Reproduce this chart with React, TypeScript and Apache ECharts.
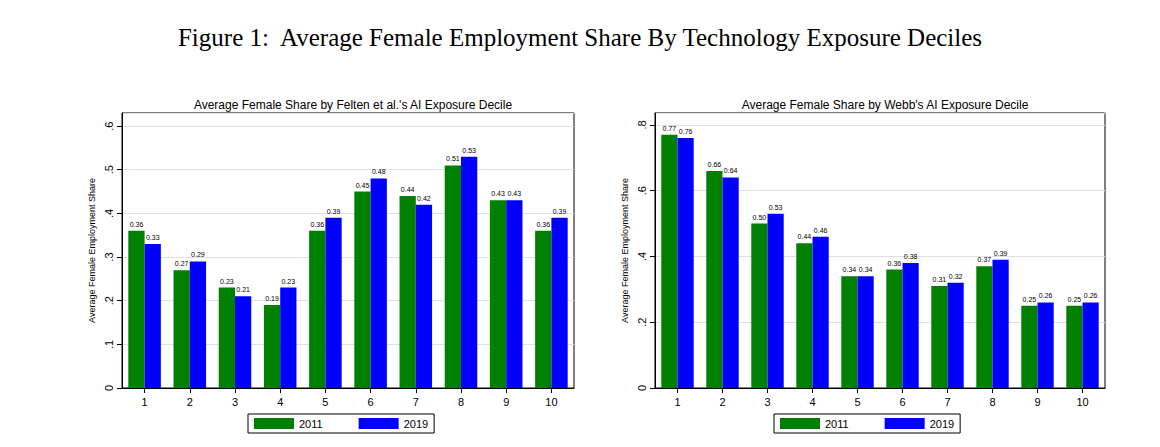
import React, { useEffect, useRef } from "react";
import * as echarts from "echarts";

const deciles = ["1", "2", "3", "4", "5", "6", "7", "8", "9", "10"];
const felten2011 = [0.36, 0.27, 0.23, 0.19, 0.36, 0.45, 0.44, 0.51, 0.43, 0.36];
const felten2019 = [0.33, 0.29, 0.21, 0.23, 0.39, 0.48, 0.42, 0.53, 0.43, 0.39];
const webb2011 = [0.77, 0.66, 0.5, 0.44, 0.34, 0.36, 0.31, 0.37, 0.25, 0.25];
const webb2019 = [0.76, 0.64, 0.53, 0.46, 0.34, 0.38, 0.32, 0.39, 0.26, 0.26];

const GREEN = "#008000";
const BLUE = "#0000ff";

const tick = (v: number) => (v === 0 ? "0" : v.toFixed(1).replace(/^0/, ""));

const App = () => {
  const chartRef = useRef(null);

  useEffect(() => {
    document.body.style.margin = "0";
    if (!chartRef.current) return;
    const chart = echarts.init(chartRef.current, null, { renderer: "svg" });
    const font = "Liberation Sans, Arial, sans-serif";

    const xAxis = (gridIndex: number) => ({
      type: "category",
      gridIndex,
      data: deciles,
      axisTick: { show: true, alignWithLabel: true, lineStyle: { color: "#000" } },
      axisLine: { lineStyle: { color: "#000" } },
      axisLabel: { color: "#000", fontSize: 11, fontFamily: font },
    });
    const yAxis = (gridIndex: number, max: number, interval: number) => ({
      type: "value",
      gridIndex,
      min: 0,
      max,
      interval,
      name: "Average Female Employment Share",
      nameLocation: "middle",
      nameGap: 26,
      nameTextStyle: { color: "#000", fontSize: 9, fontFamily: font },
      axisLine: { show: true, lineStyle: { color: "#000" } },
      axisTick: { show: true, lineStyle: { color: "#000" } },
      axisLabel: { rotate: 90, color: "#000", fontSize: 11, fontFamily: font, formatter: tick, showMaxLabel: false },
      splitLine: { lineStyle: { color: "#e0e0e0" } },
    });
    const bar = (name: string, data: number[], color: string, idx: number) => ({
      name,
      type: "bar",
      xAxisIndex: idx,
      yAxisIndex: idx,
      data,
      barGap: "0%",
      barCategoryGap: "28%",
      itemStyle: { color },
      label: {
        show: true,
        position: "top",
        fontSize: 7,
        color: "#000",
        fontFamily: font,
        formatter: (p: any) => p.value.toFixed(2),
        distance: 3,
      },
    });
    const legend = (left: number) => ({
      left,
      top: 414,
      width: 198,
      orient: "horizontal",
      data: ["2011", "2019"],
      itemWidth: 40,
      itemHeight: 11,
      itemGap: 36,
      icon: "rect",
      borderColor: "#000",
      borderWidth: 1,
      padding: [4, 6, 4, 6],
      textStyle: { color: "#000", fontSize: 11, fontFamily: font },
      selectedMode: false,
    });

    chart.setOption({
      animation: false,
      backgroundColor: "#fff",
      title: [
        {
          text: "Figure 1:  Average Female Employment Share By Technology Exposure Deciles",
          left: "center",
          top: 20,
          textStyle: { fontFamily: "Liberation Serif, DejaVu Serif, serif", fontSize: 25, fontWeight: "normal", color: "#000" },
        },
        {
          text: "Average Female Share by Felten et al.'s AI Exposure Decile",
          left: 348,
          textAlign: "center",
          top: 94,
          textStyle: { fontFamily: font, fontSize: 12, fontWeight: "normal", color: "#000" },
        },
        {
          text: "Average Female Share by Webb's AI Exposure Decile",
          left: 880,
          textAlign: "center",
          top: 94,
          textStyle: { fontFamily: font, fontSize: 12, fontWeight: "normal", color: "#000" },
        },
      ],
      grid: [
        { left: 122, top: 113, width: 452, height: 275, show: true, borderColor: "#000", borderWidth: 1 },
        { left: 655, top: 113, width: 450, height: 275, show: true, borderColor: "#000", borderWidth: 1 },
      ],
      xAxis: [xAxis(0), xAxis(1)],
      yAxis: [yAxis(0, 0.63, 0.1), yAxis(1, 0.836, 0.2)],
      legend: [legend(248), legend(774)],
      series: [
        bar("2011", felten2011, GREEN, 0),
        bar("2019", felten2019, BLUE, 0),
        bar("2011", webb2011, GREEN, 1),
        bar("2019", webb2019, BLUE, 1),
      ],
    });

    return () => chart.dispose();
  }, []);

  return <div ref={chartRef} style={{ width: "1160px", height: "447px" }} />;
};

export default App;
